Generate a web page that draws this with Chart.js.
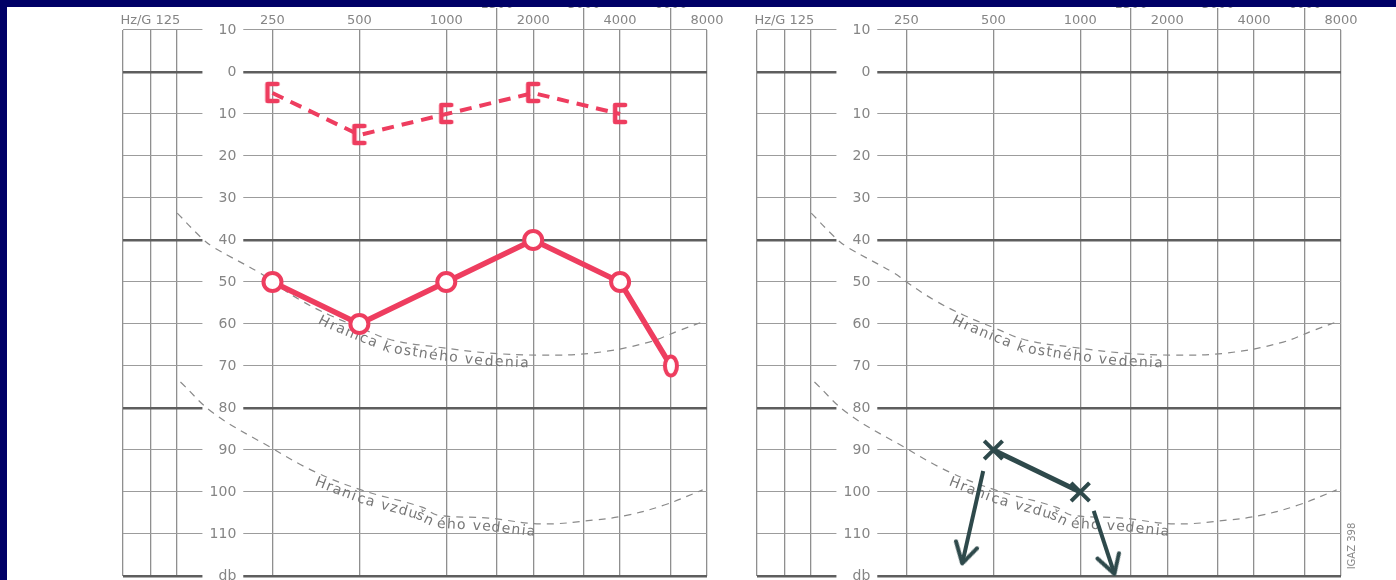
<!DOCTYPE html>
<html>
<head>
<meta charset="utf-8">
<script src="https://cdn.jsdelivr.net/npm/chart.js@4.4.1/dist/chart.umd.min.js"></script>
<style>
  html, body { margin: 0; padding: 0; background: #fff; }
  body { width: 1396px; height: 580px; position: relative; overflow: hidden; }
  canvas { position: absolute; top: 0; }
  #navyTop { position: absolute; left: 0; top: 0; width: 1396px; height: 7px; background: #000066; z-index: 5; }
  #navyLeft { position: absolute; left: 0; top: 0; width: 7px; height: 580px; background: #000066; z-index: 5; }
  #formNo { position: absolute; left: 1322px; top: 540px; width: 60px; height: 12px; line-height: 12px;
            text-align: center; transform: rotate(-90deg); font: 10px "DejaVu Sans", sans-serif; color: #8a8a8a; }
</style>
</head>
<body>
<div id="navyTop"></div>
<div id="navyLeft"></div>
<canvas id="rightEar" width="640" height="580" style="left:100px"></canvas>
<canvas id="leftEar" width="640" height="580" style="left:734px"></canvas>
<div id="formNo">IGAZ 398</div>
<script>
// thresholds (Hz / dB HL)
const RIGHT_AIR_FREQ = [250, 500, 1000, 2000, 4000, 6000];
const RIGHT_AIR_DB = [50, 60, 50, 40, 50, 70];
const RIGHT_BONE_FREQ = [250, 500, 1000, 2000, 4000];
const RIGHT_BONE_DB = [5, 15, 10, 5, 10];
const LEFT_AIR_FREQ = [500, 1000];
const LEFT_AIR_DB = [90, 100];
// "no response" arrows, start -> end
const ARROW_A_FREQ = [461, 390];
const ARROW_A_DB = [95, 117];
const ARROW_B_FREQ = [1113, 1313];
const ARROW_B_DB = [104.5, 119.5];

// limit curves printed on the form
const BONE_LIMIT_FREQ = [117, 141, 156, 227, 250, 312, 395, 507, 646, 933, 1405, 2114, 3226, 4925, 6498, 7728];
const BONE_LIMIT_DB = [33.6, 39.3, 41.7, 47.9, 50, 54.3, 57.9, 61, 63.8, 65.5, 66.9, 67.4, 66.9, 64.5, 61.4, 59.5];
const AIR_LIMIT_FREQ = [120, 156, 245, 351, 507, 824, 933, 1405, 2114, 3226, 4250, 5690, 7728];
const AIR_LIMIT_DB = [73.8, 81.2, 89.3, 95.2, 99.5, 103.6, 105.5, 106.2, 107.6, 106.7, 105.5, 103.1, 99.5];

// axes
const FREQ_TICKS = [250, 500, 1000, 1500, 2000, 3000, 4000, 6000, 8000];
const HALF_OCTAVES = [1500, 3000, 6000];
const DB_MIN = -10, DB_MAX = 120, DB_STEP = 10;

// form layout, in octaves from 250 Hz
const X_MIN = -1.72, X_MAX = 5;
const FORM_COLUMN = [-1.72, -1.405, -1.105]; // the small 125 Hz column
const Y_LABEL_AT = -0.416;
const GAP_FROM = -0.806, GAP_TO = -0.336;

const RED = '#ee3d5f';
const SLATE = '#2e494b';
const GRID = '#8f8f8f';
const TEXT = '#858585';

const oct = f => Math.log2(f / 250);
const pts = (fs, dbs) => fs.map((f, i) => ({ x: oct(f), y: dbs[i] }));
const isHalf = v => HALF_OCTAVES.some(f => Math.abs(oct(f) - v) < 1e-6);

const xLines = FORM_COLUMN.concat(FREQ_TICKS.map(oct));
const xLabels = ['', 'Hz/G 125', ''].concat(
    FREQ_TICKS.map(f => HALF_OCTAVES.includes(f) ? [String(f), ''] : String(f)));

// marker shapes
function bracket(color) {
    const c = document.createElement('canvas');
    c.width = 20; c.height = 26;
    const g = c.getContext('2d');
    g.strokeStyle = color; g.lineWidth = 4.5; g.lineCap = 'round'; g.lineJoin = 'round';
    g.beginPath(); g.moveTo(15, 4); g.lineTo(5, 4); g.lineTo(5, 21); g.lineTo(15, 21); g.stroke();
    return c;
}
function oval(color) {
    const c = document.createElement('canvas');
    c.width = 22; c.height = 30;
    const g = c.getContext('2d');
    g.beginPath(); g.ellipse(11, 15, 6, 9.5, 0, 0, Math.PI * 2);
    g.fillStyle = '#fff'; g.fill();
    g.strokeStyle = color; g.lineWidth = 4; g.stroke();
    return c;
}
function arrowHead(color) {
    const c = document.createElement('canvas');
    c.width = 44; c.height = 44;
    const g = c.getContext('2d');
    g.strokeStyle = color; g.lineWidth = 4; g.lineCap = 'round'; g.lineJoin = 'round';
    g.beginPath(); g.moveTo(11, 2); g.lineTo(22, 22); g.lineTo(33, 4); g.stroke();
    return c;
}

// clears the printed lines where the dB labels sit, then writes the curve captions
const labelGap = {
    id: 'labelGap',
    beforeDatasetsDraw(chart) {
        const { ctx, chartArea, scales: { x } } = chart;
        const l = x.getPixelForValue(GAP_FROM), r = x.getPixelForValue(GAP_TO);
        ctx.save();
        ctx.fillStyle = '#fff';
        ctx.fillRect(l, chartArea.top - 3, r - l, chartArea.bottom - chartArea.top + 6);
        ctx.restore();
        drawCurveText(chart);
    }
};

// text written along the limit curves
function drawCurveText(chart) {
    const { ctx, scales: { x } } = chart;
    chart.data.datasets.forEach((ds, i) => {
        if (!ds.curveLabel) return;
        const p = chart.getDatasetMeta(i).data.map(e => [e.x, e.y]);
        const cum = [0];
        for (let k = 1; k < p.length; k++) {
            cum.push(cum[k - 1] + Math.hypot(p[k][0] - p[k - 1][0], p[k][1] - p[k - 1][1]));
        }
        const at = s => {
            let k = 0;
            while (k < p.length - 2 && cum[k + 1] < s) k++;
            const t = (s - cum[k]) / (cum[k + 1] - cum[k]);
            const dx = p[k + 1][0] - p[k][0], dy = p[k + 1][1] - p[k][1];
            return { x: p[k][0] + t * dx, y: p[k][1] + t * dy, a: Math.atan2(dy, dx) };
        };
        const x0 = x.getPixelForValue(oct(ds.labelFrom));
        let k = 0;
        while (k < p.length - 2 && p[k + 1][0] < x0) k++;
        let s = cum[k] + (cum[k + 1] - cum[k]) * (x0 - p[k][0]) / (p[k + 1][0] - p[k][0]);
        ctx.save();
        ctx.font = '14px "DejaVu Sans"';
        ctx.fillStyle = '#777';
        ctx.textAlign = 'center';
        ctx.textBaseline = 'middle';
        for (const ch of ds.curveLabel) {
            const w = ctx.measureText(ch).width + 1.3;
            const q = at(s + w / 2);
            ctx.save();
            ctx.translate(q.x, q.y);
            ctx.rotate(q.a);
            ctx.fillText(ch, 0, 9);
            ctx.restore();
            s += w;
        }
        ctx.restore();
    });
}

function limitCurves() {
    const base = {
        borderColor: '#8a8a8a', borderWidth: 1.2, borderDash: [7, 6],
        pointRadius: 0, tension: 0.4
    };
    return [
        { ...base, data: pts(BONE_LIMIT_FREQ, BONE_LIMIT_DB), curveLabel: 'Hranica kostného vedenia', labelFrom: 372 },
        { ...base, data: pts(AIR_LIMIT_FREQ, AIR_LIMIT_DB), curveLabel: 'Hranica vzdušného vedenia', labelFrom: 360 }
    ];
}

const noPadding = s => { s.paddingTop = 0; s.paddingBottom = 0; s.paddingLeft = 0; s.paddingRight = 0; };

function makeChart(id, datasets) {
    return new Chart(document.getElementById(id), {
        type: 'line',
        data: { datasets },
        options: {
            responsive: false,
            animation: false,
            devicePixelRatio: 1,
            layout: { autoPadding: false, padding: { left: 23, right: 33, top: 0, bottom: 4 } },
            plugins: { legend: { display: false }, tooltip: { enabled: false } },
            scales: {
                x: {
                    type: 'linear',
                    position: 'top',
                    min: X_MIN,
                    max: X_MAX,
                    afterBuildTicks: s => { s.ticks = xLines.map(v => ({ value: v })); },
                    afterFit: s => { s.height = 30; noPadding(s); },
                    border: { display: false },
                    grid: {
                        color: GRID,
                        lineWidth: 1.3,
                        drawTicks: true,
                        tickLength: 22,
                        tickWidth: 1.3,
                        tickColor: c => isHalf(c.tick.value) ? GRID : 'rgba(0,0,0,0)'
                    },
                    ticks: {
                        autoSkip: false,
                        maxRotation: 0,
                        padding: -20,
                        color: TEXT,
                        font: { family: 'DejaVu Sans', size: 13 },
                        callback: (v, i) => xLabels[i]
                    }
                },
                y: {
                    type: 'linear',
                    reverse: true,
                    min: DB_MIN,
                    max: DB_MAX,
                    position: { x: Y_LABEL_AT },
                    afterFit: noPadding,
                    border: { display: false },
                    grid: {
                        drawTicks: false,
                        color: c => c.tick.value % 40 === 0 ? '#5e5e5e' : '#9c9c9c',
                        lineWidth: c => c.tick.value % 40 === 0 ? 2.6 : 1.1
                    },
                    ticks: {
                        stepSize: DB_STEP,
                        autoSkip: false,
                        z: 1,
                        padding: 0,
                        color: TEXT,
                        font: { family: 'DejaVu Sans', size: 14 },
                        callback: v => v === DB_MAX ? 'db' : String(Math.abs(v))
                    }
                }
            }
        },
        plugins: [labelGap]
    });
}

// right ear (red)
makeChart('rightEar', [
    {
        data: pts(RIGHT_AIR_FREQ, RIGHT_AIR_DB),
        borderColor: RED, borderWidth: 5.5,
        pointStyle: RIGHT_AIR_FREQ.map((f, i) => i === RIGHT_AIR_FREQ.length - 1 ? oval(RED) : 'circle'),
        pointRadius: 9, pointBorderWidth: 4,
        pointBorderColor: RED, pointBackgroundColor: '#fff'
    },
    {
        data: pts(RIGHT_BONE_FREQ, RIGHT_BONE_DB),
        borderColor: RED, borderWidth: 4, borderDash: [12, 8],
        pointStyle: bracket(RED), pointRadius: 10
    },
    ...limitCurves()
]);

// left ear (dark)
const head = arrowHead(SLATE);
makeChart('leftEar', [
    {
        data: pts(LEFT_AIR_FREQ, LEFT_AIR_DB),
        borderColor: SLATE, borderWidth: 5,
        pointStyle: 'crossRot', pointRadius: 13, pointBorderWidth: 4,
        pointBorderColor: SLATE
    },
    {
        data: pts(ARROW_A_FREQ, ARROW_A_DB),
        borderColor: SLATE, borderWidth: 4,
        pointStyle: head, pointRadius: [0, 12], pointRotation: 13, clip: 10
    },
    {
        data: pts(ARROW_B_FREQ, ARROW_B_DB),
        borderColor: SLATE, borderWidth: 4,
        pointStyle: head, pointRadius: [0, 12], pointRotation: -19, clip: 10
    },
    ...limitCurves()
]);
</script>
</body>
</html>
